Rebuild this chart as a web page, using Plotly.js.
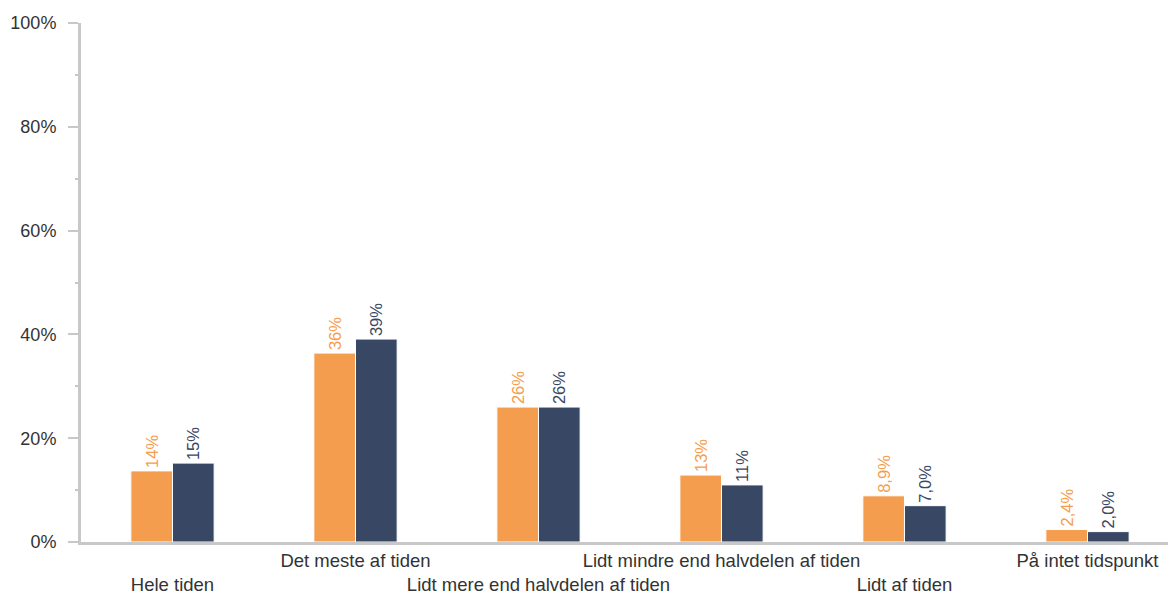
<!DOCTYPE html>
<html>
<head>
<meta charset="utf-8">
<script src="https://cdn.plot.ly/plotly-3.0.1.min.js"></script>
<style>html,body{margin:0;padding:0;background:#fff;}#chart{width:1168px;height:594px;}</style>
</head>
<body>
<div id="chart"></div>
<script>
const categories = ["Hele tiden", "Det meste af tiden", "Lidt mere end halvdelen af tiden", "Lidt mindre end halvdelen af tiden", "Lidt af tiden", "På intet tidspunkt"];
const tickLabels = ["<br>Hele tiden", "Det meste af tiden", "<br>Lidt mere end halvdelen af tiden", "Lidt mindre end halvdelen af tiden", "<br>Lidt af tiden", "På intet tidspunkt"];
const seriesA = [13.7, 36.4, 26.0, 12.9, 8.9, 2.4];
const seriesB = [15.2, 39.1, 26.0, 11.0, 7.0, 2.0];
const labelsA = ["14%", "36%", "26%", "13%", "8,9%", "2,4%"];
const labelsB = ["15%", "39%", "26%", "11%", "7,0%", "2,0%"];
const yTicks = [0, 20, 40, 60, 80, 100];

const colA = "#F49D4E", colB = "#384764";
const traces = [
  {type: "bar", x: categories, y: seriesA, text: labelsA, texttemplate: "%{text}", textposition: "outside", textangle: -90,
   textfont: {family: "Liberation Sans, Arial, sans-serif", size: 16.5, color: colA}, marker: {color: colA, line: {color: "#fff", width: 1}},
   cliponaxis: false, hoverinfo: "none", name: "A"},
  {type: "bar", x: categories, y: seriesB, text: labelsB, texttemplate: "%{text}", textposition: "outside", textangle: -90,
   textfont: {family: "Liberation Sans, Arial, sans-serif", size: 16.5, color: colB}, marker: {color: colB, line: {color: "#fff", width: 1}},
   cliponaxis: false, hoverinfo: "none", name: "B"}
];
const layout = {
  width: 1168, height: 594,
  margin: {l: 81, r: 0, t: 23, b: 52},
  paper_bgcolor: "#fff", plot_bgcolor: "#fff",
  showlegend: false,
  barmode: "group", bargap: 0.545, bargroupgap: 0,
  font: {family: "Liberation Sans, Arial, sans-serif", size: 18.5, color: "#333"},
  xaxis: {type: "category", categoryorder: "array", categoryarray: categories, tickvals: categories, ticktext: tickLabels,
          range: [-0.5, 5.44], showline: true, linecolor: "#c8c8c8", linewidth: 3, ticks: "", showgrid: false, zeroline: false,
          tickangle: 0, automargin: false, tickfont: {size: 18.5, color: "#333"}, fixedrange: true},
  yaxis: {range: [0, 100], tickvals: yTicks, ticktext: yTicks.map(v => v + "%"), showgrid: false, zeroline: false,
          showline: true, linecolor: "#c8c8c8", linewidth: 3, ticks: "outside", ticklen: 10, tickwidth: 2, tickcolor: "#c8c8c8",
          ticklabelstandoff: 8, automargin: false,
          minor: {dtick: 10, ticks: "outside", ticklen: 3, tickwidth: 2, tickcolor: "#c8c8c8"},
          tickfont: {size: 18, color: "#333"}, fixedrange: true}
};
Plotly.newPlot("chart", traces, layout, {displayModeBar: false, staticPlot: true});
</script>
</body>
</html>
